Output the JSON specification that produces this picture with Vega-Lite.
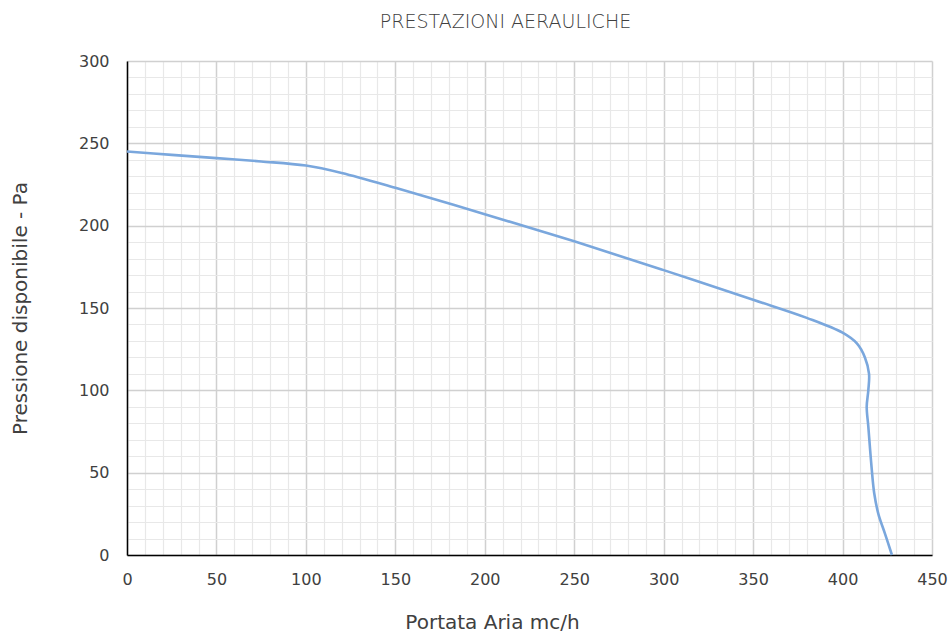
{
  "$schema": "https://vega.github.io/schema/vega-lite/v6.json",
  "autosize": {"type": "none"},
  "padding": {"left": 127, "top": 61, "right": 20, "bottom": 78},
  "width": 805,
  "height": 494,
  "background": "white",
  "config": {"view": {"stroke": null}, "font": "DejaVu Sans"},
  "title": {"text": "PRESTAZIONI AERAULICHE", "fontSize": 19, "font": "DejaVu Sans", "fontWeight": 200, "color": "#404040", "offset": 21, "dx": -24},
  "data": {"values": [
    {"i": 0, "q": 0, "p": 245},
    {"i": 1, "q": 25, "p": 243},
    {"i": 2, "q": 50, "p": 241},
    {"i": 3, "q": 75, "p": 239},
    {"i": 4, "q": 100, "p": 236.5},
    {"i": 5, "q": 120, "p": 232},
    {"i": 6, "q": 150, "p": 223},
    {"i": 7, "q": 200, "p": 207},
    {"i": 8, "q": 250, "p": 190.5},
    {"i": 9, "q": 300, "p": 173},
    {"i": 10, "q": 350, "p": 155},
    {"i": 11, "q": 380, "p": 144},
    {"i": 12, "q": 400, "p": 135},
    {"i": 13, "q": 408, "p": 128.5},
    {"i": 14, "q": 412.5, "p": 120},
    {"i": 15, "q": 414.8, "p": 110},
    {"i": 16, "q": 414.4, "p": 100},
    {"i": 17, "q": 413.5, "p": 90},
    {"i": 18, "q": 414.4, "p": 78},
    {"i": 19, "q": 416.2, "p": 53.5},
    {"i": 20, "q": 417.7, "p": 37.5},
    {"i": 21, "q": 420, "p": 25},
    {"i": 22, "q": 423.7, "p": 13},
    {"i": 23, "q": 427.6, "p": 0}
  ]},
  "mark": {"type": "line", "color": "#7aa7dd", "strokeWidth": 2.6, "interpolate": "catmull-rom"},
  "encoding": {
    "order": {"field": "i", "type": "quantitative"},
    "x": {
      "field": "q", "type": "quantitative",
      "scale": {"domain": [0, 450], "nice": false, "zero": false},
      "axis": {
        "values": [0,10,20,30,40,50,60,70,80,90,100,110,120,130,140,150,160,170,180,190,200,210,220,230,240,250,260,270,280,290,300,310,320,330,340,350,360,370,380,390,400,410,420,430,440,450],
        "labelExpr": "datum.value % 50 === 0 ? datum.label : ''",
        "labelFlush": false,
        "grid": true,
        "gridColor": {"condition": {"test": "datum.value % 50 === 0", "value": "#d0d0d0"}, "value": "#e8e8e8"},
        "gridWidth": {"condition": {"test": "datum.value % 50 === 0", "value": 1.5}, "value": 1.2},
        "ticks": false,
        "domainColor": "#000000",
        "domainWidth": 1.5,
        "labelFontSize": 16,
        "labelColor": "#404040",
        "labelPadding": 16,
        "labelFont": "DejaVu Sans",
        "title": "Portata Aria mc/h",
        "titleFontSize": 20,
        "titleFontWeight": "normal",
        "titleColor": "#404040",
        "titleFont": "DejaVu Sans",
        "titlePadding": 25,
        "titleX": 365
      }
    },
    "y": {
      "field": "p", "type": "quantitative",
      "scale": {"domain": [0, 300], "nice": false, "zero": false},
      "axis": {
        "values": [0,10,20,30,40,50,60,70,80,90,100,110,120,130,140,150,160,170,180,190,200,210,220,230,240,250,260,270,280,290,300],
        "labelExpr": "datum.value % 50 === 0 ? datum.label : ''",
        "labelFlush": false,
        "grid": true,
        "gridColor": {"condition": {"test": "datum.value % 50 === 0", "value": "#d0d0d0"}, "value": "#e8e8e8"},
        "gridWidth": {"condition": {"test": "datum.value % 50 === 0", "value": 1.5}, "value": 1.2},
        "ticks": false,
        "domainColor": "#000000",
        "domainWidth": 1.5,
        "labelFontSize": 16,
        "labelColor": "#404040",
        "labelPadding": 18,
        "labelFont": "DejaVu Sans",
        "title": "Pressione disponibile - Pa",
        "titleFontSize": 20,
        "titleFontWeight": "normal",
        "titleColor": "#404040",
        "titleFont": "DejaVu Sans",
        "titlePadding": 48
      }
    }
  }
}
